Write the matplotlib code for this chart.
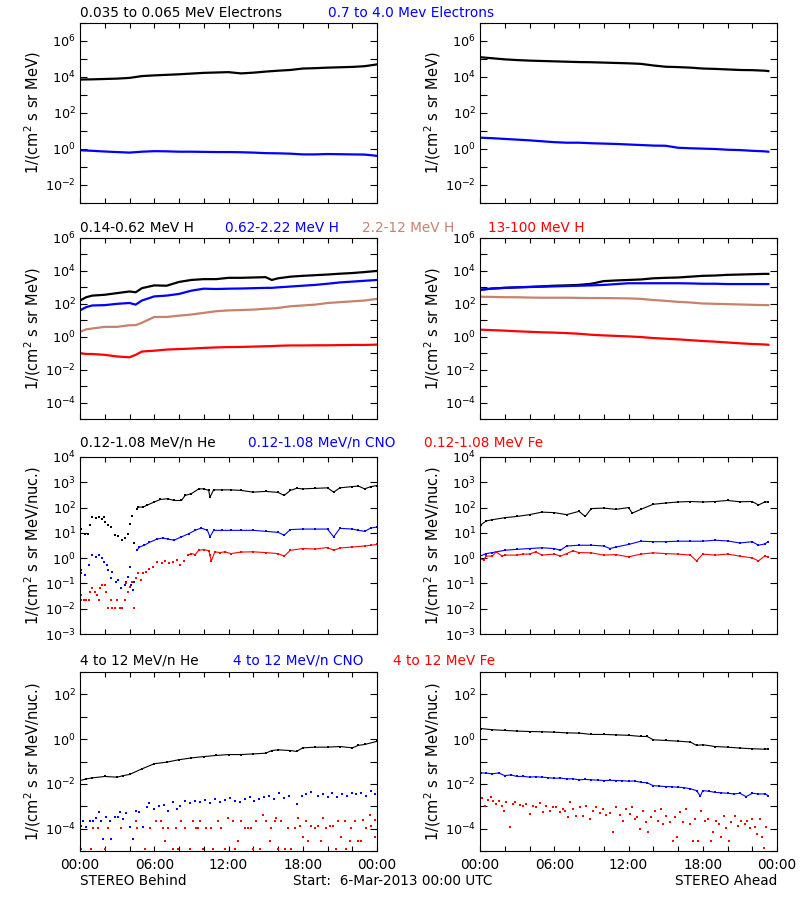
import numpy as np
import matplotlib
matplotlib.use('Agg')
import matplotlib.pyplot as plt
from matplotlib.ticker import FixedLocator, NullFormatter

# Data: hours after 6-Mar-2013 00:00 UTC, log10 of flux

# Row 1: electrons  1/(cm2 s sr MeV)
e_beh_t = list(range(25))
e_beh_lo = [3.86, 3.87, 3.89, 3.91, 3.95, 4.05, 4.09, 4.12, 4.15, 4.19, 4.23, 4.25, 4.27,
            4.2, 4.24, 4.3, 4.35, 4.39, 4.47, 4.49, 4.52, 4.54, 4.56, 4.6, 4.7]
e_beh_hi = [-0.07, -0.1, -0.14, -0.17, -0.2, -0.15, -0.12, -0.13, -0.15, -0.15, -0.16, -0.17, -0.17,
            -0.18, -0.2, -0.23, -0.24, -0.26, -0.3, -0.3, -0.28, -0.29, -0.3, -0.31, -0.38]
e_ahd_t = list(range(24)) + [23.3]
e_ahd_lo = [5.1, 5.04, 4.98, 4.94, 4.91, 4.89, 4.87, 4.85, 4.83, 4.82, 4.8, 4.78, 4.76,
            4.73, 4.64, 4.57, 4.55, 4.52, 4.47, 4.45, 4.42, 4.39, 4.38, 4.35, 4.33]
e_ahd_hi = [0.63, 0.6, 0.56, 0.52, 0.48, 0.43, 0.38, 0.35, 0.35, 0.32, 0.3, 0.28, 0.25,
            0.22, 0.19, 0.18, 0.07, 0.04, 0.02, 0.0, -0.04, -0.06, -0.1, -0.13, -0.15]

# Row 2: protons
h_beh_t = [0, 0.5, 1, 2, 3, 4, 4.5, 5, 6, 7, 8, 9, 10, 11, 12, 13, 14, 15, 15.5, 16,
           17, 18, 19, 20, 21, 22, 23, 24]
h_beh_1 = [2.2, 2.4, 2.5, 2.55, 2.65, 2.75, 2.7, 2.95, 3.12, 3.1, 3.33, 3.45, 3.5, 3.5, 3.58,
           3.58, 3.6, 3.62, 3.45, 3.55, 3.65, 3.7, 3.74, 3.78, 3.83, 3.87, 3.93, 4.0]
h_beh_2 = [1.6, 1.8, 1.9, 1.92, 2.0, 2.05, 1.95, 2.2, 2.45, 2.5, 2.6, 2.8, 2.92, 2.9, 2.92,
           2.93, 2.95, 2.97, 2.97, 3.0, 3.05, 3.1, 3.15, 3.22, 3.3, 3.35, 3.4, 3.45]
h_beh_3 = [0.3, 0.45, 0.5, 0.6, 0.6, 0.7, 0.7, 0.85, 1.2, 1.2, 1.28, 1.35, 1.45, 1.55, 1.6,
           1.62, 1.65, 1.7, 1.72, 1.75, 1.85, 1.9, 1.95, 2.05, 2.1, 2.15, 2.2, 2.3]
h_beh_4 = [-1.0, -1.05, -1.05, -1.1, -1.2, -1.25, -1.1, -0.9, -0.85, -0.78, -0.75, -0.72, -0.68,
           -0.65, -0.63, -0.62, -0.6, -0.58, -0.57, -0.55, -0.53, -0.53, -0.52, -0.52, -0.51,
           -0.5, -0.5, -0.48]
h_ahd_t = list(range(24)) + [23.3]
h_ahd_1 = [2.85, 2.93, 2.97, 3.0, 3.03, 3.06, 3.1, 3.12, 3.15, 3.22, 3.38, 3.42, 3.45, 3.48,
           3.55, 3.58, 3.6, 3.65, 3.7, 3.72, 3.76, 3.78, 3.8, 3.82, 3.82]
h_ahd_2 = [2.85, 2.93, 2.97, 3.0, 3.02, 3.04, 3.06, 3.08, 3.1, 3.12, 3.15, 3.2, 3.25, 3.25,
           3.25, 3.25, 3.25, 3.24, 3.22, 3.22, 3.2, 3.2, 3.2, 3.2, 3.2]
h_ahd_3 = [2.43, 2.42, 2.4, 2.4, 2.38, 2.37, 2.37, 2.37, 2.36, 2.35, 2.35, 2.34, 2.33, 2.3,
           2.23, 2.18, 2.12, 2.08, 2.02, 2.0, 1.98, 1.96, 1.94, 1.92, 1.92]
h_ahd_4 = [0.43, 0.4, 0.37, 0.33, 0.3, 0.27, 0.25, 0.22, 0.18, 0.12, 0.08, 0.05, 0.02, -0.02,
           -0.08, -0.12, -0.16, -0.21, -0.26, -0.3, -0.35, -0.4, -0.44, -0.47, -0.49]

# Row 3: 0.12-1.08 MeV/n ions
lo_beh_he_t = [0.1, 0.4, 0.65, 0.8, 1.0, 1.3, 1.55, 1.8, 1.9, 2.0, 2.3, 2.5, 2.8, 3.1, 3.4,
               3.6, 3.9, 4.0, 4.2, 4.4, 4.6, 4.7, 5.1, 5.4, 6.0, 6.5, 7.1, 7.6, 8.2, 8.5,
               9.0, 9.6, 10.0, 10.4, 10.5, 10.8, 11.5, 12.2, 13, 14, 15, 16, 16.5, 17, 17.5,
               18, 19, 20, 20.5, 21, 22, 22.5, 23, 23.5, 24]
lo_beh_he = [1.14, 0.94, 0.97, 1.3, 1.63, 1.59, 1.63, 1.56, 1.63, 1.43, 1.3, 1.23, 0.91, 0.88,
             0.71, 0.78, 0.97, 1.34, 1.67, 0.58, 1.96, 2.02, 2.02, 2.09, 2.22, 2.32, 2.35,
             2.28, 2.28, 2.48, 2.55, 2.74, 2.74, 2.68, 2.41, 2.7, 2.7, 2.7, 2.68, 2.61, 2.64,
             2.6, 2.48, 2.68, 2.76, 2.74, 2.76, 2.78, 2.61, 2.78, 2.83, 2.85, 2.74, 2.83, 2.87]
lo_beh_cno_t = [0.05, 0.1, 0.4, 0.7, 1.0, 1.3, 1.55, 1.8, 1.9, 2.2, 2.3, 2.5, 2.6, 2.9, 3.1,
                3.3, 3.6, 3.75, 3.9, 4.0, 4.1, 4.3, 4.4, 4.6, 4.8, 5.2, 5.6, 6.2, 6.7, 7.1,
                7.6, 8.2, 8.8, 9.3, 9.8, 10.3, 10.5, 10.8, 11.5, 12.2, 13, 14, 15, 16, 16.5,
                17, 18, 19, 20, 20.5, 21, 22, 22.5, 23, 23.5, 24]
lo_beh_cno = [-0.47, -0.6, -0.67, -0.28, 0.12, 0.05, 0.12, -0.01, -0.15, -0.28, -0.47, -0.8,
              -0.54, -0.93, -0.87, -1.19, -1.06, -0.93, -0.74, -0.34, -1.06, -1.26, -0.93,
              0.31, 0.44, 0.51, 0.62, 0.75, 0.8, 0.75, 0.71, 0.84, 0.97, 1.1, 1.19, 1.1, 0.84,
              1.1, 1.1, 1.1, 1.1, 1.1, 1.06, 1.02, 0.91, 1.13, 1.15, 1.15, 1.15, 0.84, 1.18,
              1.15, 1.1, 1.06, 1.19, 1.23]
lo_beh_fe_t = [0.05, 0.1, 0.3, 0.5, 0.7, 0.8, 1.0, 1.2, 1.4, 1.5, 1.6, 1.8, 2.0, 2.1, 2.3,
               2.5, 2.6, 2.8, 3.0, 3.2, 3.4, 3.6, 3.7, 3.9, 4.0, 4.2, 4.4, 4.5, 4.7, 4.9,
               5.1, 5.3, 5.6, 5.9, 6.2, 6.6, 6.9, 7.2, 7.5, 7.8, 8.1, 8.4, 8.7, 9.0, 9.3,
               9.6, 10.0, 10.4, 10.5, 10.6, 10.9, 11.3, 11.7, 12.2, 13, 14, 15, 16, 16.5,
               17, 18, 19, 20, 20.5, 21, 22, 23, 23.5, 24]
lo_beh_fe = [-1.65, -1.46, -1.65, -1.65, -1.65, -1.33, -1.19, -1.33, -1.46, -1.65, -1.19, -1.06,
             -1.06, -1.33, -1.98, -1.65, -1.98, -1.98, -1.65, -1.98, -1.98, -1.65, -1.0, -1.33,
             -1.13, -0.93, -1.98, -0.8, -0.6, -0.87, -0.6, -0.54, -0.41, -0.34, -0.15, -0.21,
             -0.12, -0.21, -0.15, -0.08, -0.28, -0.12, 0.12, 0.18, 0.14, 0.31, 0.34, 0.29,
             0.12, -0.12, 0.25, 0.22, 0.25, 0.18, 0.24, 0.25, 0.22, 0.18, 0.08, 0.31, 0.38,
             0.36, 0.42, 0.31, 0.4, 0.44, 0.48, 0.51, 0.54]
lo_ahd_he_t = [0.1, 0.5, 1, 2, 3, 4, 5, 6, 7, 8, 8.5, 9, 10, 11, 12, 12.3, 13, 14, 15, 16,
               17, 18, 19, 20, 21, 22, 22.5, 23, 23.3]
lo_ahd_he = [1.33, 1.47, 1.52, 1.6, 1.65, 1.72, 1.82, 1.8, 1.72, 1.85, 1.65, 1.96, 1.98, 1.93,
             2.0, 1.78, 1.93, 2.13, 2.18, 2.22, 2.24, 2.22, 2.24, 2.28, 2.23, 2.24, 2.1, 2.22,
             2.22]
lo_ahd_cno_t = [0, 0.5, 1, 2, 3, 4, 5, 6, 6.5, 7, 8, 9, 10, 10.5, 11, 12, 13, 14, 15, 16, 17,
                18, 19, 20, 21, 22, 22.5, 23, 23.3]
lo_ahd_cno = [0.08, 0.18, 0.22, 0.31, 0.35, 0.38, 0.41, 0.38, 0.31, 0.48, 0.51, 0.51, 0.48,
              0.38, 0.44, 0.54, 0.67, 0.65, 0.65, 0.67, 0.67, 0.67, 0.71, 0.68, 0.6, 0.65,
              0.51, 0.56, 0.65]
lo_ahd_fe_t = [0, 0.3, 0.5, 1, 1.3, 1.8, 2, 3, 3.5, 4, 4.5, 5, 6, 6.5, 7, 7.5, 8, 9, 10, 11,
               12, 13, 14, 15, 16, 17, 17.5, 18, 19, 20, 21, 22, 22.5, 23, 23.3]
lo_ahd_fe = [-0.01, -0.08, 0.08, 0.08, 0.25, 0.08, 0.12, 0.12, 0.16, 0.16, 0.25, 0.12, 0.16,
             0.08, 0.18, 0.29, 0.22, 0.21, 0.12, 0.14, 0.05, 0.16, 0.21, 0.18, 0.16, 0.12,
             -0.11, 0.16, 0.12, 0.16, 0.08, 0.01, -0.11, 0.08, 0.05]

# Row 4: 4 to 12 MeV/n ions
hi_beh_he_t = [0, 0.5, 1, 2, 3, 3.5, 4, 5, 6, 7, 8, 9, 10, 11, 12, 13, 14, 15, 15.5, 16, 17,
               17.5, 18, 19, 20, 21, 22, 22.5, 23, 24]
hi_beh_he = [-1.85, -1.78, -1.73, -1.67, -1.7, -1.63, -1.58, -1.33, -1.1, -1.03, -0.92, -0.84,
             -0.78, -0.73, -0.69, -0.69, -0.66, -0.63, -0.51, -0.48, -0.51, -0.55, -0.39,
             -0.36, -0.36, -0.33, -0.39, -0.28, -0.24, -0.1]
hi_beh_cno_t = [0.11, 0.24, 0.51, 0.78, 1.05, 1.32, 1.51, 1.72, 1.86, 2.1, 2.4, 2.5, 2.8, 3.1,
                3.2, 3.5, 3.7, 4.0, 4.3, 4.55, 4.8, 5.1, 5.4, 5.6, 6.0, 6.4, 6.8, 7.1, 7.5,
                7.8, 8.1, 8.5, 8.9, 9.3, 9.7, 10.1, 10.5, 10.9, 11.3, 11.7, 12.1, 12.5, 12.9,
                13.3, 13.7, 14.1, 14.5, 14.9, 15.3, 15.7, 16.1, 16.5, 16.9, 17.5, 17.9, 18.3,
                18.7, 19.2, 19.6, 20.0, 20.4, 20.8, 21.2, 21.6, 22.0, 22.3, 22.7, 23.1, 23.5,
                23.8]
hi_beh_cno = [-3.87, -3.65, -3.91, -3.65, -3.65, -3.53, -3.27, -3.65, -4.47, -3.47, -3.65,
              -4.47, -3.47, -3.47, -3.27, -3.57, -3.32, -3.91, -4.47, -3.23, -3.27, -3.91,
              -3.05, -2.87, -3.12, -2.97, -2.93, -3.2, -2.83, -3.12, -2.97, -2.75, -2.87,
              -2.75, -2.83, -2.72, -2.87, -2.67, -2.83, -2.72, -2.63, -2.75, -2.83, -2.67,
              -2.57, -2.75, -2.67, -2.6, -2.52, -2.67, -2.42, -2.63, -2.52, -2.9, -2.52,
              -2.45, -2.38, -2.52, -2.45, -2.57, -2.42, -2.6, -2.45, -2.52, -2.42, -2.47,
              -2.42, -2.52, -2.33, -2.45]
hi_beh_fe_t = [0.11, 0.92, 1.05, 1.46, 1.99, 2.26, 3.34, 4.55, 4.63, 5.23, 5.63, 6.17, 6.57,
               6.71, 6.84, 7.11, 7.52, 7.79, 7.92, 8.19, 8.46, 8.86, 9.13, 9.4, 9.54, 9.67,
               9.94, 10.21, 10.61, 10.75, 11.15, 11.42, 11.69, 11.96, 12.37, 12.5, 12.77,
               13.04, 13.31, 13.58, 13.85, 13.98, 14.25, 14.52, 14.79, 15.06, 15.33, 15.46,
               15.73, 15.87, 16.0, 16.27, 16.54, 16.81, 17.08, 17.35, 17.62, 17.75, 18.02,
               18.29, 18.43, 18.7, 18.96, 19.23, 19.5, 19.64, 19.91, 20.18, 20.45, 20.72,
               20.85, 21.12, 21.39, 21.52, 21.79, 21.93, 22.2, 22.47, 22.74, 22.87, 23.14,
               23.41, 23.54, 23.81, 23.81]
hi_beh_fe = [-4.91, -4.91, -3.99, -3.99, -4.91, -3.99, -3.99, -3.68, -3.99, -4.91, -3.99,
             -3.68, -3.68, -3.99, -4.54, -3.99, -4.91, -3.99, -4.91, -3.68, -3.99, -4.91,
             -3.68, -3.99, -3.99, -3.68, -4.91, -3.99, -3.99, -4.91, -3.68, -3.99, -4.91,
             -3.53, -3.68, -4.91, -4.54, -3.68, -3.99, -3.99, -3.99, -4.91, -3.68, -4.91,
             -3.38, -3.68, -4.54, -3.99, -3.68, -3.53, -4.91, -3.68, -4.91, -3.99, -4.91,
             -3.99, -3.53, -3.87, -4.39, -3.68, -4.54, -3.87, -3.99, -3.87, -4.54, -3.53,
             -3.99, -3.87, -3.87, -4.91, -3.68, -4.39, -3.68, -4.91, -4.54, -3.99, -3.68,
             -4.54, -4.54, -3.6, -3.99, -3.38, -3.87, -4.39, -3.6]
hi_ahd_he_t = [0.1, 1, 2, 3, 4, 5, 6, 7, 8, 9, 10, 11, 12, 13, 13.5, 14, 15, 16, 17, 17.5, 18,
               19, 20, 21, 22, 23, 23.3]
hi_ahd_he = [0.47, 0.42, 0.39, 0.36, 0.34, 0.33, 0.31, 0.28, 0.27, 0.21, 0.21, 0.19, 0.17,
             0.12, 0.12, -0.03, -0.06, -0.09, -0.13, -0.28, -0.25, -0.33, -0.36, -0.4, -0.43,
             -0.45, -0.43]
hi_ahd_cno_t = [0.1, 0.5, 1, 1.5, 2, 2.5, 3, 3.5, 4, 4.5, 5, 5.5, 6, 6.5, 7, 7.5, 8, 8.5, 9,
                9.5, 10, 10.5, 11, 11.5, 12, 12.5, 13, 13.5, 14, 14.5, 15, 15.5, 16, 16.5, 17,
                17.5, 17.8, 18, 18.5, 19, 19.5, 20, 20.5, 21, 21.5, 22, 22.5, 23, 23.3]
hi_ahd_cno = [-1.51, -1.52, -1.55, -1.51, -1.63, -1.6, -1.67, -1.66, -1.7, -1.68, -1.7, -1.72,
              -1.75, -1.74, -1.78, -1.77, -1.82, -1.8, -1.82, -1.83, -1.85, -1.84, -1.85,
              -1.86, -1.88, -1.87, -1.93, -1.95, -2.08, -2.1, -2.12, -2.13, -2.15, -2.17,
              -2.22, -2.3, -2.55, -2.3, -2.33, -2.38, -2.4, -2.42, -2.45, -2.42, -2.57, -2.42,
              -2.45, -2.45, -2.52]
hi_ahd_fe_t = [0.0, 0.16, 0.38, 0.65, 0.86, 1.05, 1.32, 1.51, 1.78, 1.94, 2.13, 2.4, 2.67,
               2.86, 3.21, 3.48, 3.75, 4.01, 4.28, 4.55, 4.82, 5.09, 5.36, 5.63, 5.9, 6.17,
               6.44, 6.71, 6.9, 7.11, 7.25, 7.52, 7.79, 8.06, 8.32, 8.59, 8.86, 9.13, 9.4,
               9.67, 9.94, 10.21, 10.48, 10.75, 11.02, 11.29, 11.56, 11.83, 12.1, 12.28, 12.5,
               12.72, 12.9, 13.17, 13.44, 13.58, 13.85, 14.12, 14.39, 14.6, 14.79, 15.06,
               15.33, 15.6, 15.73, 15.95, 16.14, 16.41, 16.68, 16.94, 17.21, 17.4, 17.62,
               17.89, 18.16, 18.43, 18.64, 18.83, 19.1, 19.29, 19.45, 19.72, 19.91, 20.1,
               20.31, 20.58, 20.85, 21.12, 21.39, 21.6, 21.79, 21.98, 22.2, 22.41, 22.6,
               22.79, 22.95, 23.14]
hi_ahd_fe = [-2.83, -2.63, -2.97, -2.72, -2.6, -2.78, -2.9, -2.78, -2.97, -3.2, -2.83, -3.91,
             -2.9, -2.83, -2.93, -2.97, -2.9, -3.35, -2.97, -3.05, -2.87, -3.27, -2.97, -3.2,
             -3.02, -3.05, -3.27, -3.12, -3.2, -3.5, -2.83, -3.12, -3.42, -3.05, -3.42, -2.97,
             -3.57, -3.2, -3.05, -3.32, -3.12, -3.38, -3.32, -4.17, -3.05, -3.38, -3.65,
             -3.12, -3.35, -3.02, -3.57, -3.5, -4.02, -3.2, -3.72, -4.17, -3.5, -3.2, -3.65,
             -3.12, -3.79, -3.42, -3.72, -4.54, -3.47, -4.39, -3.27, -3.72, -3.12, -3.79,
             -4.54, -3.57, -4.54, -3.23, -3.65, -3.57, -4.54, -4.17, -3.65, -3.79, -4.39,
             -3.42, -3.95, -4.54, -3.72, -3.42, -3.87, -3.65, -3.79, -3.65, -3.95, -3.57,
             -3.91, -4.24, -3.57, -4.39, -4.87, -3.91]

TAN = '#c8826a'
BLUE = '#0000ff'
RED = '#ff0000'

hour_ticks = [0, 6, 12, 18, 24]
hour_labels = ['00:00', '06:00', '12:00', '18:00', '00:00']

TXT = 9.8

fig = plt.figure(figsize=(8, 9), dpi=100)

# axes boxes in pixels (top, bottom) for each row
rows_px = [(23, 203), (238, 419), (457, 634), (672, 851)]
col_x = [80, 480]
ylims = [(-3, 7), (-5, 6), (-3, 4), (-5, 3)]
label_step = [2, 2, 1, 2]
ylabels = ['1/(cm$^2$ s sr MeV)', '1/(cm$^2$ s sr MeV)',
           '1/(cm$^2$ s sr MeV/nuc.)', '1/(cm$^2$ s sr MeV/nuc.)']

axes = []
for r, (top, bot) in enumerate(rows_px):
    row = []
    for c in range(2):
        ax = fig.add_axes([col_x[c] / 800, 1 - bot / 900, 297 / 800, (bot - top) / 900])
        ax.set_yscale('log')
        lo, hi = ylims[r]
        ax.set_ylim(10.0 ** lo, 10.0 ** hi)
        ax.set_xlim(0, 24)
        exps = list(range(lo, hi + 1))
        major = [e for e in exps if e % label_step[r] == 0]
        minor = [e for e in exps if e % label_step[r] != 0]
        ax.yaxis.set_major_locator(FixedLocator([10.0 ** e for e in major]))
        ax.yaxis.set_minor_locator(FixedLocator([10.0 ** e for e in minor]))
        ax.set_yticklabels(['10$^{%d}$' % e for e in major])
        ax.yaxis.set_minor_formatter(NullFormatter())
        ax.xaxis.set_major_locator(FixedLocator(hour_ticks))
        ax.xaxis.set_minor_locator(FixedLocator([2, 4, 8, 10, 14, 16, 20, 22]))
        if r == 3:
            ax.set_xticklabels(hour_labels)
        else:
            ax.set_xticklabels([])
        ax.tick_params(which='both', direction='in', top=True, right=True, width=0.8,
                       colors='black')
        ax.tick_params(axis='y', which='both', length=5, pad=3, labelsize=9.2)
        ax.tick_params(axis='x', which='both', length=3.5, pad=5, labelsize=TXT)
        for s in ax.spines.values():
            s.set_linewidth(0.8)
        ax.set_ylabel(ylabels[r], fontsize=10.5)
        ax.yaxis.set_label_coords(-0.125, 0.5)
        row.append(ax)
    axes.append(row)


def line(ax, t, v, color):
    ax.plot(t, 10.0 ** np.array(v), color=color, lw=1.6)


def dots(ax, t, v, color, join_after=None):
    t = np.array(t)
    f = 10.0 ** np.array(v)
    ax.plot(t, f, ls='none', marker='s', ms=2, mew=0, color=color)
    if join_after is not None:
        m = t >= join_after
        ax.plot(t[m], f[m], color=color, lw=0.8)


# row 1
line(axes[0][0], e_beh_t, e_beh_lo, 'black')
line(axes[0][0], e_beh_t, e_beh_hi, BLUE)
line(axes[0][1], e_ahd_t, e_ahd_lo, 'black')
line(axes[0][1], e_ahd_t, e_ahd_hi, BLUE)

# row 2
for v, col in [(h_beh_1, 'black'), (h_beh_2, BLUE), (h_beh_3, TAN), (h_beh_4, RED)]:
    line(axes[1][0], h_beh_t, v, col)
for v, col in [(h_ahd_1, 'black'), (h_ahd_2, BLUE), (h_ahd_3, TAN), (h_ahd_4, RED)]:
    line(axes[1][1], h_ahd_t, v, col)

# row 3
dots(axes[2][0], lo_beh_he_t, lo_beh_he, 'black', join_after=4.6)
dots(axes[2][0], lo_beh_cno_t, lo_beh_cno, BLUE, join_after=4.6)
dots(axes[2][0], lo_beh_fe_t, lo_beh_fe, RED, join_after=8.5)
dots(axes[2][1], lo_ahd_he_t, lo_ahd_he, 'black', join_after=0)
dots(axes[2][1], lo_ahd_cno_t, lo_ahd_cno, BLUE, join_after=0)
dots(axes[2][1], lo_ahd_fe_t, lo_ahd_fe, RED, join_after=0)

# row 4
dots(axes[3][0], hi_beh_he_t, hi_beh_he, 'black', join_after=0)
dots(axes[3][0], hi_beh_cno_t, hi_beh_cno, BLUE)
dots(axes[3][0], hi_beh_fe_t, hi_beh_fe, RED)
dots(axes[3][1], hi_ahd_he_t, hi_ahd_he, 'black', join_after=0)
dots(axes[3][1], hi_ahd_cno_t, hi_ahd_cno, BLUE, join_after=0)
dots(axes[3][1], hi_ahd_fe_t, hi_ahd_fe, RED)

# row titles
titles = [
    (13, [(80, '0.035 to 0.065 MeV Electrons', 'black'), (328, '0.7 to 4.0 Mev Electrons', BLUE)]),
    (228, [(80, '0.14-0.62 MeV H', 'black'), (225, '0.62-2.22 MeV H', BLUE),
           (362, '2.2-12 MeV H', TAN), (488, '13-100 MeV H', RED)]),
    (443, [(80, '0.12-1.08 MeV/n He', 'black'), (248, '0.12-1.08 MeV/n CNO', BLUE),
           (424, '0.12-1.08 MeV Fe', RED)]),
    (661, [(80, '4 to 12 MeV/n He', 'black'), (233, '4 to 12 MeV/n CNO', BLUE),
           (393, '4 to 12 MeV Fe', RED)]),
]
for y, items in titles:
    for x, txt, col in items:
        fig.text(x / 800, 1 - y / 900, txt, color=col, fontsize=TXT, ha='left', va='center')

fig.text(80 / 800, 1 - 881 / 900, 'STEREO Behind', fontsize=TXT, ha='left', va='center')
fig.text(293 / 800, 1 - 881 / 900, 'Start:  6-Mar-2013 00:00 UTC', fontsize=TXT,
         ha='left', va='center')
fig.text(777 / 800, 1 - 881 / 900, 'STEREO Ahead', fontsize=TXT, ha='right', va='center')

fig.savefig('out.png', dpi=100, facecolor='white')
